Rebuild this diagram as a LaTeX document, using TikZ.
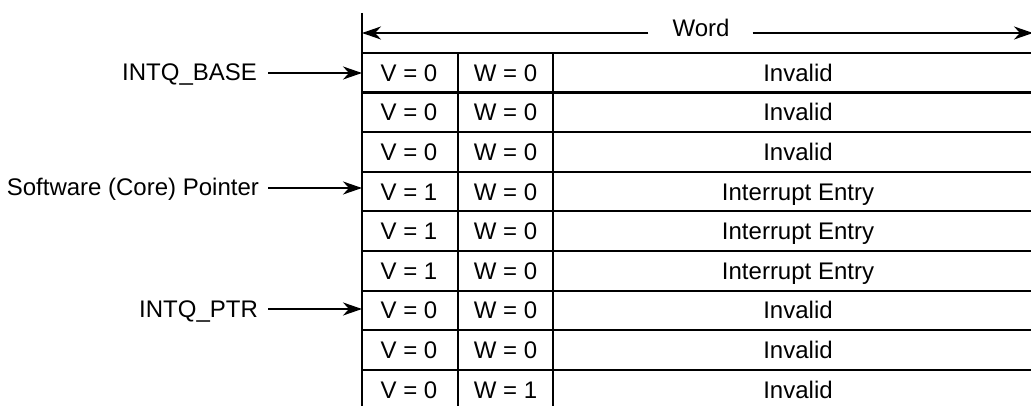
\documentclass[tikz,border=0pt]{standalone}
\usepackage{fontspec}
\setmainfont{Liberation Sans}
\usetikzlibrary{arrows.meta}
\begin{document}
\begin{tikzpicture}[x=1pt,y=-1pt,line width=2.2pt,
  lbl/.style={font=\fontsize{24}{28}\selectfont,inner sep=0pt},
  ptr/.style={-{Stealth[length=19pt,width=13pt,inset=6pt]}}]
\useasboundingbox (0,0) rectangle (1031,406);
% grid
\draw (362,13) -- (362,410);
\draw (458,53) -- (458,410);
\draw (553,53) -- (553,410);
\foreach \k in {0,...,8} \draw (362,{53+39.6*\k}) -- (1040,{53+39.6*\k});
% cells
\foreach \k/\v/\w/\e in {1/0/0/Invalid,2/0/0/Invalid,3/0/0/Invalid,4/1/0/Interrupt Entry,5/1/0/Interrupt Entry,6/1/0/Interrupt Entry,7/0/0/Invalid,8/0/0/Invalid,9/0/1/Invalid}{
  \node[lbl,anchor=base] (v\k) at (409,{33.2+39.6*\k+8.5}) {V = \v};
  \node[lbl,anchor=base] (w\k) at (505.5,{33.2+39.6*\k+8.5}) {W = \w};
  \node[lbl,anchor=base] (e\k) at (798,{33.2+39.6*\k+8.5}) {\e};
}
% word arrow
\node[lbl,anchor=base] (word) at (701,37) {Word};
\coordinate (wl) at (362,33);
\coordinate (wr) at (1033,33);
\draw[ptr] ([xshift=-23pt]word.west |- wl) -- (wl);
\draw[ptr] ([xshift=22pt]word.east |- wr) -- (wr);
% pointers
\node[lbl,anchor=base east] (base) at (258,81) {INTQ\_BASE};
\node[lbl,anchor=base east] (sw) at (260,196) {Software (Core) Pointer};
\node[lbl,anchor=base east] (ptrl) at (259,317) {INTQ\_PTR};
\coordinate (pb) at (362,73);
\coordinate (ps) at (362,188);
\coordinate (pp) at (362,309);
\draw[ptr] ([xshift=10pt]base.east |- pb) -- (pb);
\draw[ptr] ([xshift=8pt]sw.east |- ps) -- (ps);
\draw[ptr] ([xshift=9pt]ptrl.east |- pp) -- (pp);
\end{tikzpicture}
\end{document}
